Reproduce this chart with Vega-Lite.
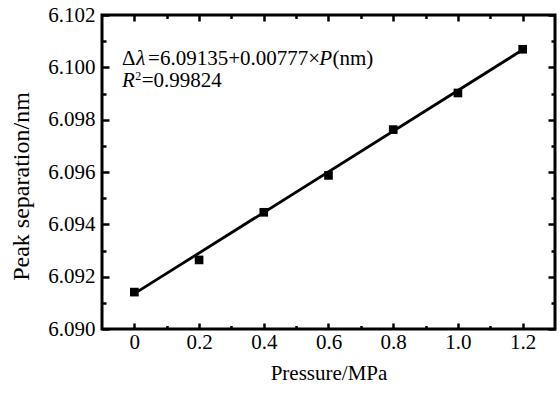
{
  "$schema": "https://vega.github.io/schema/vega-lite/v6.json",
  "width": 453,
  "height": 314,
  "autosize": {"type": "none"},
  "padding": {"left": 102, "top": 15, "right": 5, "bottom": 64},
  "background": "white",
  "config": {
    "font": "Liberation Serif",
    "view": {"stroke": "black", "strokeWidth": 3},
    "axis": {
      "domain": false,
      "grid": false,
      "tickColor": "black",
      "tickWidth": 2.5,
      "labelFont": "Liberation Serif",
      "labelFontSize": 21,
      "labelColor": "black",
      "titleFont": "Liberation Serif",
      "titleFontSize": 21,
      "titleFontWeight": "normal",
      "titleColor": "black"
    }
  },
  "resolve": {"axis": {"x": "independent", "y": "independent"}},
  "layer": [
    {
      "data": {"values": [{"P": 0, "v": 6.09135}, {"P": 1.2, "v": 6.10067}]},
      "mark": {"type": "line", "color": "black", "strokeWidth": 2.8},
      "encoding": {
        "x": {"field": "P", "type": "quantitative",
          "scale": {"domain": [-0.1, 1.3], "nice": false, "zero": false},
          "axis": {"orient": "bottom", "values": [0, 0.2, 0.4, 0.6, 0.8, 1.0, 1.2], "tickSize": -6, "labelPadding": 8,
            "labelExpr": "datum.value == 0 ? '0' : format(datum.value, '.1f')", "title": "Pressure/MPa", "titlePadding": 10}},
        "y": {"field": "v", "type": "quantitative",
          "scale": {"domain": [6.09, 6.102], "nice": false, "zero": false},
          "axis": {"orient": "left", "values": [6.09, 6.092, 6.094, 6.096, 6.098, 6.1, 6.102], "tickSize": -7, "labelPadding": 14,
            "format": ".3f", "title": "Peak separation/nm", "titleFontSize": 24, "titlePadding": 14, "titleY": 171}}
      }
    },
    {
      "data": {"values": [
        {"P": 0, "v": 6.09141}, {"P": 0.2, "v": 6.09264}, {"P": 0.4, "v": 6.09446},
        {"P": 0.6, "v": 6.09587}, {"P": 0.8, "v": 6.09762}, {"P": 1.0, "v": 6.09902}, {"P": 1.2, "v": 6.10069}
      ]},
      "mark": {"type": "point", "shape": "square", "filled": true, "color": "black", "opacity": 1, "size": 75},
      "encoding": {
        "x": {"field": "P", "type": "quantitative",
          "scale": {"domain": [-0.1, 1.3], "nice": false, "zero": false},
          "axis": {"orient": "top", "values": [0, 0.2, 0.4, 0.6, 0.8, 1.0, 1.2], "tickSize": -6, "labels": false, "title": null}},
        "y": {"field": "v", "type": "quantitative",
          "scale": {"domain": [6.09, 6.102], "nice": false, "zero": false},
          "axis": {"orient": "right", "values": [6.09, 6.092, 6.094, 6.096, 6.098, 6.1, 6.102], "tickSize": -7, "labels": false, "title": null}}
      }
    },
    {
      "data": {"values": [
        {"t": "Δ", "x": -0.0385, "y": 6.10032},
        {"t": "=6.09135+0.00777×", "x": 0.0425, "y": 6.10032},
        {"t": "(nm)", "x": 0.6125, "y": 6.10032},
        {"t": "=0.99824", "x": 0.0225, "y": 6.09948}
      ]},
      "mark": {"type": "text", "font": "Liberation Serif", "fontSize": 21, "color": "black", "baseline": "middle", "align": "left"},
      "encoding": {
        "text": {"field": "t"},
        "x": {"field": "x", "type": "quantitative",
          "scale": {"domain": [-0.1, 1.3], "nice": false, "zero": false},
          "axis": {"orient": "bottom", "values": [0.1, 0.3, 0.5, 0.7, 0.9, 1.1], "tickSize": -3.5, "labels": false, "title": null}},
        "y": {"field": "y", "type": "quantitative",
          "scale": {"domain": [6.09, 6.102], "nice": false, "zero": false},
          "axis": {"orient": "left", "values": [6.091, 6.093, 6.095, 6.097, 6.099, 6.101], "tickSize": -4, "labels": false, "title": null}}
      }
    },
    {
      "data": {"values": [
        {"t": "λ", "x": 0.0055, "y": 6.10032},
        {"t": "P", "x": 0.5715, "y": 6.10032},
        {"t": "R", "x": -0.0385, "y": 6.09948}
      ]},
      "mark": {"type": "text", "font": "Liberation Serif", "fontSize": 21, "fontStyle": "italic", "color": "black", "baseline": "middle", "align": "left"},
      "encoding": {
        "text": {"field": "t"},
        "x": {"field": "x", "type": "quantitative",
          "scale": {"domain": [-0.1, 1.3], "nice": false, "zero": false},
          "axis": {"orient": "top", "values": [0.1, 0.3, 0.5, 0.7, 0.9, 1.1], "tickSize": -3.5, "labels": false, "title": null}},
        "y": {"field": "y", "type": "quantitative",
          "scale": {"domain": [6.09, 6.102], "nice": false, "zero": false},
          "axis": {"orient": "right", "values": [6.091, 6.093, 6.095, 6.097, 6.099, 6.101], "tickSize": -4, "labels": false, "title": null}}
      }
    },
    {
      "data": {"values": [{"t": "2", "x": 0.0030, "y": 6.09948}]},
      "mark": {"type": "text", "font": "Liberation Serif", "fontSize": 12, "color": "black", "baseline": "middle", "align": "left", "dy": -5},
      "encoding": {
        "text": {"field": "t"},
        "x": {"field": "x", "type": "quantitative", "scale": {"domain": [-0.1, 1.3], "nice": false, "zero": false}, "axis": null},
        "y": {"field": "y", "type": "quantitative", "scale": {"domain": [6.09, 6.102], "nice": false, "zero": false}, "axis": null}
      }
    }
  ]
}
